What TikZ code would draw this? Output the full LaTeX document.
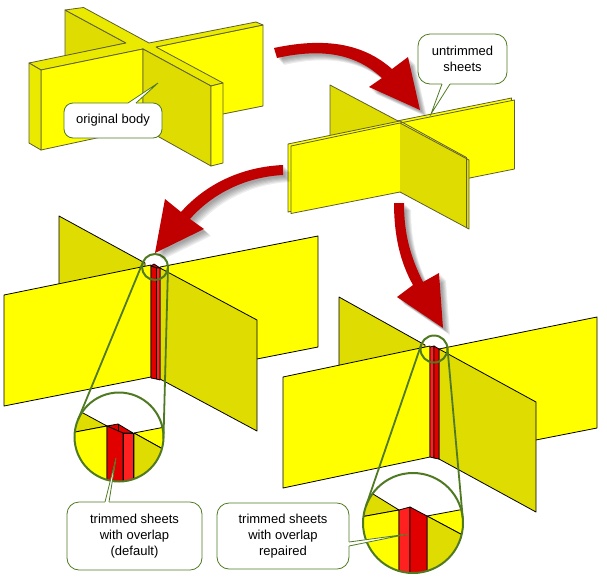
\documentclass[tikz,border=0pt]{standalone}
\usepackage{fontspec}
\setmainfont{Liberation Sans}
\definecolor{sheetBright}{HTML}{FFFF00}
\definecolor{sheetDark}{HTML}{DEDC00}
\definecolor{sheetTop}{HTML}{EAEA00}
\definecolor{sheetEdge}{HTML}{5E5E30}
\definecolor{lensGreen}{HTML}{4F7A22}
\definecolor{arrowRed}{HTML}{C00000}
\definecolor{colDark}{HTML}{E00000}
\definecolor{colLight}{HTML}{FF2020}
\tikzset{
  calloutbox/.style={draw=lensGreen, line width=0.8pt, fill=white, rounded corners=12pt, inner sep=0pt,
    align=center, font=\fontsize{13}{16}\selectfont},
  lens/.style={circle, draw=lensGreen, line width=2pt, inner sep=0pt, outer sep=0pt},
  lensline/.style={draw=lensGreen, line width=1.8pt},
  edgeA/.style={draw=sheetEdge, line width=0.8pt, line join=round},
  edgeB/.style={draw=black, line width=0.8pt, line join=round},
}
% pointer of a callout: base point, tip, base point
\newcommand{\calloutptr}[3]{
  \draw[white, line width=1.4pt] (#1) -- (#3);
  \fill[white] (#1) -- (#2) -- (#3) -- cycle;
  \draw[lensGreen, line width=0.8pt] (#1) -- (#2) -- (#3);
}
% red arrow with a soft shadow
\newcommand{\redarrow}[1]{
  \foreach \off in {2,3,4,5,6,7}
    \fill[black, opacity=0.07, xshift=\off pt, yshift=-\off pt] #1;
  \fill[arrowRed] #1;
}
\begin{document}
\begin{tikzpicture}[x=1pt, y=-1pt]
\useasboundingbox (0,0) rectangle (607,584);
% Original body
\begin{scope}[edgeA]
  \filldraw[fill=sheetDark] (65,10) -- (126,43) -- (65,56) -- cycle;
  \filldraw[fill=sheetBright] (156,47) -- (263,25) -- (263,106) -- (223,114) -- (156,114) -- cycle;
  \filldraw[fill=sheetTop] (65,10) -- (83.5,7.5) -- (149,43) -- (256,22) -- (263,25) -- (156,47)
    -- (223,83) -- (211,86) -- (143,49) -- (41,70) -- (29,63) -- (126,43) -- cycle;
  \filldraw[fill=sheetBright] (41,70) -- (143,49) -- (143,128) -- (41,150) -- cycle;
  \filldraw[fill=sheetTop] (29,63) -- (41,70) -- (41,150) -- (29,143) -- cycle;
  \filldraw[fill=sheetDark] (143,49) -- (211,86) -- (211,166) -- (143,128) -- cycle;
  \filldraw[fill=sheetBright] (211,86) -- (223,83) -- (223,163) -- (211,166) -- cycle;
\end{scope}
% Untrimmed sheets
\begin{scope}[edgeA]
  \filldraw[fill=sheetDark] (400,122) -- (330,85) -- (330,160) -- (400,160);
  \filldraw[fill=sheetBright] (397,121) -- (511.5,98) -- (511.5,165) -- (397,188);
  \filldraw[fill=sheetBright] (400,123) -- (514.5,100) -- (514.5,169) -- (400,192);
  \filldraw[fill=sheetBright] (400,121) -- (288,144) -- (288,212) -- (400,189);
  \filldraw[fill=sheetBright] (400,123) -- (291,146) -- (291,213.5) -- (400,192);
  \filldraw[fill=sheetDark] (400,123) -- (469,160) -- (469,229) -- (400,192);
  \draw (400,121) -- (466.5,157.5) -- (466.5,228);
\end{scope}
% Left trimmed figure
\begin{scope}[edgeB]
  \filldraw[fill=sheetDark] (59,216) -- (145,263) -- (145,300) -- (59,300) -- cycle;
  \filldraw[fill=sheetBright] (160,267) -- (318,236) -- (318,347) -- (160,378) -- cycle;
  \filldraw[fill=sheetBright] (4,295) -- (151,265) -- (151,377) -- (4,406) -- cycle;
  \filldraw[fill=sheetDark] (160,268) -- (257,320) -- (257,431) -- (160,379) -- cycle;
  \filldraw[fill=colDark] (151,266) -- (154,264) -- (160,268) -- (156.5,268) -- cycle;
  \filldraw[fill=colDark] (151,266) -- (156.5,268) -- (156.5,379) -- (151,378) -- cycle;
  \filldraw[fill=colLight] (156.5,268) -- (160,268) -- (160,380) -- (156.5,379) -- cycle;
\end{scope}
% Right trimmed figure
\begin{scope}[edgeB]
  \filldraw[fill=sheetDark] (339,297) -- (425,345) -- (425,400) -- (339,400) -- cycle;
  \filldraw[fill=sheetBright] (439,349) -- (597,317) -- (597,428) -- (439,459) -- cycle;
  \filldraw[fill=sheetBright] (283,377) -- (430,346) -- (430,457) -- (283,488) -- cycle;
  \filldraw[fill=sheetDark] (439,349) -- (536,402) -- (536,512) -- (439,459) -- cycle;
  \filldraw[fill=colLight] (430,347) -- (434,346) -- (434,458) -- (430,457) -- cycle;
  \filldraw[fill=colDark] (434,346) -- (439,349) -- (439,459) -- (434,458) -- cycle;
\end{scope}
% Left lens
\fill[white] (119,437) circle (44.5);
\begin{scope}
  \clip (119,437) circle (44.5);
  \begin{scope}[edgeB]
    \filldraw[fill=sheetDark] (83,413) -- (107,426) -- (70,433) -- (70,410) -- cycle;
    \filldraw[fill=sheetBright] (70,433) -- (107,426) -- (107,490) -- (70,490) -- cycle;
    \filldraw[fill=sheetBright] (134,433) -- (170,426) -- (170,453) -- cycle;
    \filldraw[fill=sheetDark] (134,433) -- (170,453) -- (170,490) -- (134,490) -- cycle;
    \filldraw[fill=colDark] (107,426) -- (118,424) -- (133,433) -- (123,433) -- cycle;
    \filldraw[fill=colDark] (107,426) -- (123,433) -- (123,490) -- (107,490) -- cycle;
    \filldraw[fill=colLight] (123,433) -- (133,433) -- (133,490) -- (123,490) -- cycle;
    \draw (118,424) -- (118,431);
  \end{scope}
\end{scope}
% Right lens
\fill[white] (413,523) circle (50);
\begin{scope}
  \clip (413,523) circle (50);
  \begin{scope}[edgeB]
    \filldraw[fill=sheetDark] (373,494) -- (399,510) -- (355,518) -- (355,485) -- cycle;
    \filldraw[fill=sheetBright] (355,518) -- (399,510) -- (399,580) -- (355,580) -- cycle;
    \filldraw[fill=sheetBright] (427,516) -- (470,508) -- (470,539) -- cycle;
    \filldraw[fill=sheetDark] (427,516) -- (470,539) -- (470,580) -- (427,580) -- cycle;
    \filldraw[fill=colLight] (399,510) -- (410,507) -- (410,580) -- (399,580) -- cycle;
    \filldraw[fill=colDark] (410,507) -- (427,516) -- (427,580) -- (410,580) -- cycle;
  \end{scope}
\end{scope}
% Lens rings and their tangents
\node[lens, minimum size=26pt] (ringA) at (155,267) {};
\node[lens, minimum size=89pt] (lensA) at (119,437) {};
\node[lens, minimum size=27pt] (ringB) at (434,349) {};
\node[lens, minimum size=100pt] (lensB) at (413,523) {};
\draw[lensline] (ringA.157) -- (lensA.157);
\draw[lensline] (ringA.-2) -- (lensA.-2);
\draw[lensline] (ringB.161) -- (lensB.161);
\draw[lensline] (ringB.5) -- (lensB.5);
% Arrows
\redarrow{(274,48) .. controls (330,36) and (366,46) .. (392,69) -- (408,57) -- (420,110) -- (369,87)
  -- (382,78) .. controls (358,56) and (326,47) .. (277,58) -- cycle}
\redarrow{(283,165) .. controls (240,167) and (205,185) .. (181,212) -- (165,199) -- (155,253) -- (204,229)
  -- (190,219) .. controls (212,194) and (245,177) .. (283,175) -- cycle}
\redarrow{(394,203) .. controls (394,235) and (400,262) .. (413,285) -- (397,297) -- (443,328) -- (439,273)
  -- (423,282) .. controls (411,258) and (404,235) .. (404,203) -- cycle}
% Callouts
\node[calloutbox, rounded corners=9pt, minimum width=98pt, minimum height=35pt] (origBody) at (113,120.5) {original body};
\calloutptr{128,103}{158,83}{136,103}
\node[calloutbox, minimum width=89pt, minimum height=50pt] (untrimmed) at (462.5,59) {untrimmed\\sheets};
\calloutptr{442,84}{431,114}{450,84}
\node[calloutbox, minimum width=135pt, minimum height=68pt] (overlapDefault) at (134.5,536) {trimmed sheets\\with overlap\\(default)};
\calloutptr{105,502}{116,458}{109,502}
\node[calloutbox, minimum width=132pt, minimum height=66pt] (overlapRepaired) at (283,536) {trimmed sheets\\with overlap\\repaired};
\calloutptr{349,542}{408,534}{349,546}
\end{tikzpicture}
\end{document}
